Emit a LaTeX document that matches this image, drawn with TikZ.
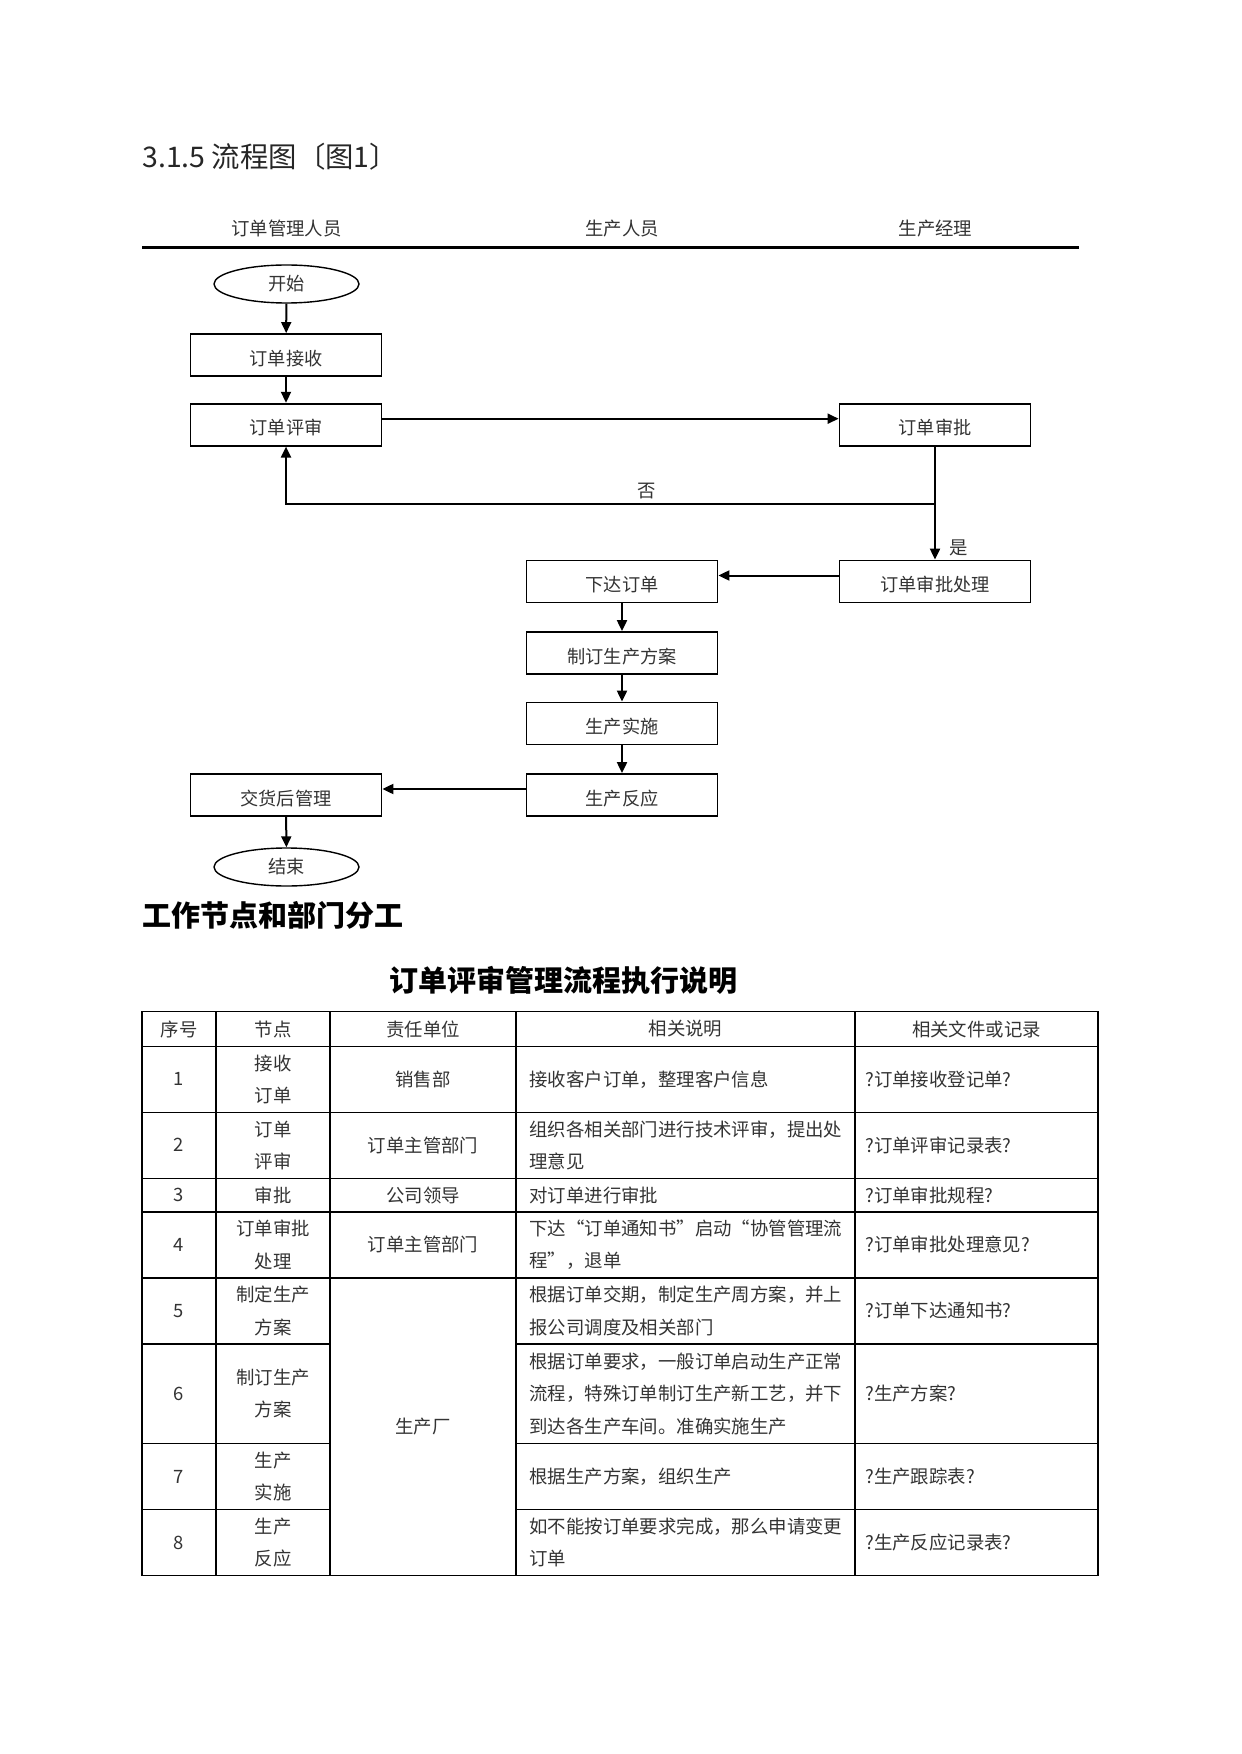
\documentclass[tikz,border=0pt]{standalone}
\usepackage{fontspec}
\setmainfont{Noto Sans CJK SC}
\usetikzlibrary{shapes.geometric,arrows.meta}
\begin{document}
\begin{tikzpicture}[x=0.5pt,y=-0.5pt,
  txt/.style={text=black!80,font=\fontsize{9.2}{16.25}\selectfont,inner sep=0pt},
  ltxt/.style={txt,anchor=west,align=left},
  ctxt/.style={txt,align=center},
  box/.style={draw,line width=0.9pt,minimum width=95.5pt,minimum height=21pt,inner sep=0pt,text height=10.3pt,text depth=0pt,text=black!80,font=\fontsize{9.1}{11}\selectfont},
  term/.style={draw,ellipse,line width=0.7pt,minimum width=72.5pt,minimum height=19pt,inner sep=0pt,text=black!80,font=\fontsize{9.1}{11}\selectfont},
  arr/.style={line width=1pt,-{Triangle[length=5.5pt,width=5pt]}},
  conn/.style={line width=1pt},
  grid/.style={line width=0.7pt},
  head/.style={font=\fontsize{14.5}{16}\selectfont\bfseries,inner sep=0pt}
]
\useasboundingbox (0,0) rectangle (1241,1754);

% title and lane headers
\node[anchor=west,inner sep=0pt,font=\fontsize{14.2}{16}\selectfont,text=black!85] (title) at (142,157) {3.1.5 流程图〔图1〕};
\node[txt] (h1) at (286.5,229) {订单管理人员};
\node[txt] (h2) at (622,229) {生产人员};
\node[txt] (h3) at (935.5,229) {生产经理};
\coordinate (ruleL) at (142,247.5);
\coordinate (ruleR) at (1079,247.5);
\draw[line width=1.4pt] (ruleL) -- (ruleR);

% flow nodes
\node[term] (start) at (286.5,284) {开始};
\node[box] (jieshou) at (286,355) {订单接收};
\node[box] (pingshen) at (286,424.7) {订单评审};
\node[box] (shenpi) at (935,424.7) {订单审批};
\node[box] (chuli) at (935,581.5) {订单审批处理};
\node[box] (xiada) at (622,581.5) {下达订单};
\node[box] (fangan) at (622,653) {制订生产方案};
\node[box] (shishi) at (622,723.5) {生产实施};
\node[box] (fanying) at (622,795) {生产反应};
\node[box] (jiaohuo) at (286,795) {交货后管理};
\node[term] (end) at (286.5,867) {结束};

% connectors
\draw[arr] (start) -- (jieshou);
\draw[arr] (jieshou) -- (pingshen);
\draw[arr] ([yshift=3pt]pingshen.east) -- ([yshift=3pt]shenpi.west);
\coordinate (turn) at (935,503.6);
\draw[conn] (shenpi.south) -- (turn);
\draw[arr] (turn) -| (pingshen.south);
\draw[arr] (turn) -- (chuli.north);
\node[txt] (no) at (647,491) {否};
\node[txt] (yes) at (959,548) {是};
\draw[arr] ([yshift=3pt]chuli.west) -- ([yshift=3pt]xiada.east);
\draw[arr] (xiada) -- (fangan);
\draw[arr] (fangan) -- (shishi);
\draw[arr] (shishi) -- (fanying);
\draw[arr] ([yshift=3pt]fanying.west) -- ([yshift=3pt]jiaohuo.east);
\draw[arr] (jiaohuo) -- (end);

% headings
\node[head,anchor=west] (sec) at (142,915) {工作节点和部门分工};
\node[head] (tabtitle) at (563,980) {订单评审管理流程执行说明};

% table grid
\draw[grid] (142,1011.6) rectangle (1098,1575.6);
\foreach \yy in {1046.3,1112.3,1178.3,1211.9,1277.9}
  \draw[grid] (142,\yy) -- (1098,\yy);
\foreach \yy in {1343.9,1443.5,1509.5} {
  \draw[grid] (142,\yy) -- (330,\yy);
  \draw[grid] (516,\yy) -- (1098,\yy);
}
\foreach \xx in {216,330,516,855}
  \draw[grid] (\xx,1011.6) -- (\xx,1575.6);

% header row
\node[txt] (t01) at (179,1029) {序号};
\node[txt] (t02) at (273,1029) {节点};
\node[txt] (t03) at (423,1029) {责任单位};
\node[txt] (t04) at (685.5,1029) {相关说明};
\node[txt] (t05) at (976.5,1029) {相关文件或记录};

% row 1
\node[txt] (t11) at (179,1079.3) {1};
\node[ctxt] (t12) at (273,1079.3) {接收\\订单};
\node[txt] (t13) at (423,1079.3) {销售部};
\node[ltxt] (t14) at (529,1079.3) {接收客户订单，整理客户信息};
\node[ltxt] (t15) at (865,1079.3) {?订单接收登记单?};
% row 2
\node[txt] (t21) at (179,1145.3) {2};
\node[ctxt] (t22) at (273,1145.3) {订单\\评审};
\node[txt] (t23) at (423,1145.3) {订单主管部门};
\node[ltxt] (t24) at (529,1145.3) {组织各相关部门进行技术评审，提出处\\理意见};
\node[ltxt] (t25) at (865,1145.3) {?订单评审记录表?};
% row 3
\node[txt] (t31) at (179,1195.1) {3};
\node[txt] (t32) at (273,1195.1) {审批};
\node[txt] (t33) at (423,1195.1) {公司领导};
\node[ltxt] (t34) at (529,1195.1) {对订单进行审批};
\node[ltxt] (t35) at (865,1195.1) {?订单审批规程?};
% row 4
\node[txt] (t41) at (179,1244.9) {4};
\node[ctxt] (t42) at (273,1244.9) {订单审批\\处理};
\node[txt] (t43) at (423,1244.9) {订单主管部门};
\node[ltxt] (t44) at (529,1244.9) {下达“订单通知书”启动“协管管理流\\程”，退单};
\node[ltxt] (t45) at (865,1244.9) {?订单审批处理意见?};
% row 5
\node[txt] (t51) at (179,1310.9) {5};
\node[ctxt] (t52) at (273,1310.9) {制定生产\\方案};
\node[ltxt] (t54) at (529,1310.9) {根据订单交期，制定生产周方案，并上\\报公司调度及相关部门};
\node[ltxt] (t55) at (865,1310.9) {?订单下达通知书?};
% row 6
\node[txt] (t61) at (179,1393.7) {6};
\node[ctxt] (t62) at (273,1393.7) {制订生产\\方案};
\node[ltxt] (t64) at (529,1393.7) {根据订单要求，一般订单启动生产正常\\流程，特殊订单制订生产新工艺，并下\\到达各生产车间。准确实施生产};
\node[ltxt] (t65) at (865,1393.7) {?生产方案?};
% row 7
\node[txt] (t71) at (179,1476.5) {7};
\node[ctxt] (t72) at (273,1476.5) {生产\\实施};
\node[ltxt] (t74) at (529,1476.5) {根据生产方案，组织生产};
\node[ltxt] (t75) at (865,1476.5) {?生产跟踪表?};
% row 8
\node[txt] (t81) at (179,1542.6) {8};
\node[ctxt] (t82) at (273,1542.6) {生产\\反应};
\node[ltxt] (t84) at (529,1542.6) {如不能按订单要求完成，那么申请变更\\订单};
\node[ltxt] (t85) at (865,1542.6) {?生产反应记录表?};
% merged cell
\node[txt] (t53) at (423,1426.7) {生产厂};
\end{tikzpicture}
\end{document}
